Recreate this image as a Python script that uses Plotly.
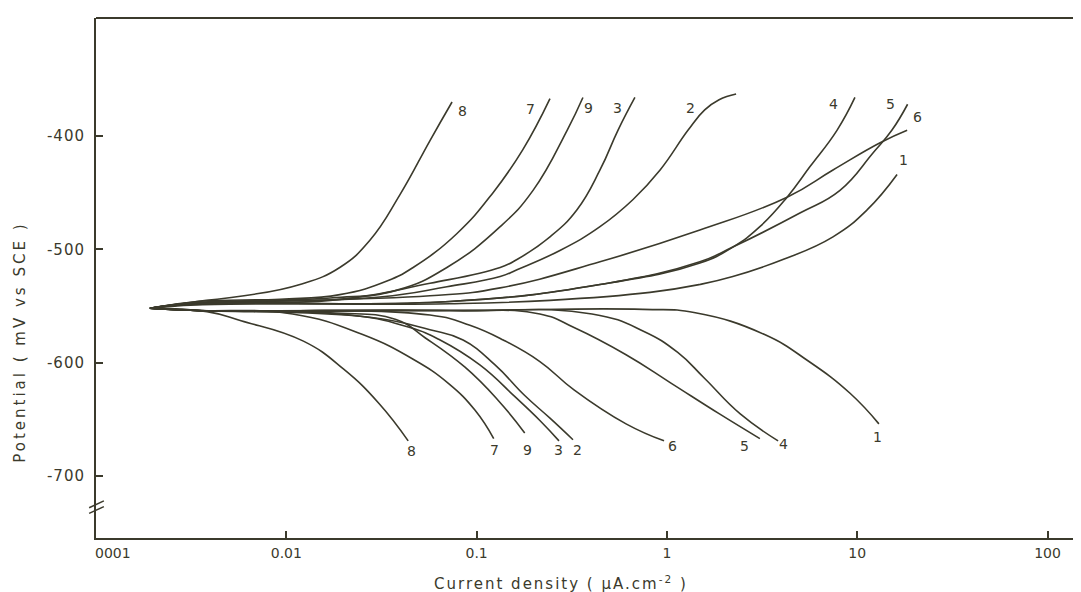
import math
import plotly.graph_objects as go

# ---------------- data (current density in uA/cm2, potential in mV vs SCE) -------------
curve_names = ["1", "2", "3", "4", "5", "6", "7", "8", "9"]

c1_anodic_i = [0.00192, 0.0034, 0.0724, 0.243, 0.815, 1.49, 2.22, 4.07, 7.46, 11.3, 16.2]
c1_anodic_E = [-552, -549, -548, -545, -538, -531, -524, -509, -489, -465, -434]
c1_cathodic_i = [0.00192, 0.0034, 0.0724, 0.748, 1.41, 3.24, 5.58, 9.17, 13.0]
c1_cathodic_E = [-552, -554, -554, -553, -556, -575, -599, -627, -654]

c2_anodic_i = [0.00192, 0.0034, 0.031, 0.0698, 0.133, 0.163, 0.274, 0.445, 0.664, 0.921, 1.29, 1.58, 1.88, 2.31]
c2_anodic_E = [-552, -548, -542, -533, -524, -518, -501, -480, -456, -430, -395, -377, -368, -363]
c2_cathodic_i = [0.00192, 0.0034, 0.0275, 0.0569, 0.0849, 0.125, 0.179, 0.243, 0.321]
c2_cathodic_E = [-552, -554, -560, -571, -580, -602, -629, -649, -668]

c3_anodic_i = [0.00192, 0.0034, 0.017, 0.0569, 0.133, 0.163, 0.243, 0.337, 0.445, 0.553, 0.679]
c3_anodic_E = [-552, -547, -545, -530, -516, -509, -489, -465, -430, -395, -366]
c3_cathodic_i = [0.00192, 0.0034, 0.0216, 0.0447, 0.0643, 0.104, 0.159, 0.215, 0.271]
c3_cathodic_E = [-552, -554, -558, -569, -580, -602, -630, -651, -669]

c4_anodic_i = [0.00192, 0.0034, 0.0724, 0.445, 1.49, 2.22, 3.08, 4.28, 5.65, 7.83, 9.73]
c4_anodic_E = [-552, -548, -546, -531, -512, -498, -480, -454, -427, -395, -366]
c4_cathodic_i = [0.00192, 0.0034, 0.0724, 0.404, 0.748, 1.14, 1.58, 2.42, 3.84]
c4_cathodic_E = [-552, -554, -554, -557, -572, -591, -614, -645, -669]

c5_anodic_i = [0.00192, 0.0034, 0.0724, 0.445, 1.49, 2.22, 5.0, 8.12, 12.1, 15.2, 18.4]
c5_anodic_E = [-552, -548, -546, -531, -511, -498, -468, -448, -415, -395, -372]
c5_cathodic_i = [0.00192, 0.0034, 0.0724, 0.215, 0.325, 0.61, 1.05, 1.88, 3.08]
c5_cathodic_E = [-552, -554, -554, -557, -569, -593, -618, -645, -667]

c6_anodic_i = [0.00192, 0.0034, 0.0569, 0.133, 0.445, 1.49, 4.28, 7.46, 13.2, 18.3]
c6_anodic_E = [-552, -548, -541, -534, -511, -483, -454, -430, -406, -395]
c6_cathodic_i = [0.00192, 0.0034, 0.0569, 0.0922, 0.138, 0.215, 0.325, 0.61, 0.966]
c6_cathodic_E = [-552, -554, -558, -567, -580, -599, -624, -654, -669]

c7_anodic_i = [0.00192, 0.0034, 0.00927, 0.0191, 0.0338, 0.0464, 0.0789, 0.122, 0.175, 0.243]
c7_anodic_E = [-552, -546, -544, -540, -528, -516, -486, -450, -412, -367]
c7_cathodic_i = [0.00192, 0.0034, 0.0108, 0.025, 0.0464, 0.0708, 0.0982, 0.123]
c7_cathodic_E = [-552, -554, -557, -575, -597, -618, -642, -667]

c8_anodic_i = [0.00192, 0.0034, 0.0060, 0.0118, 0.0191, 0.0275, 0.0395, 0.0569, 0.0743]
c8_anodic_E = [-552, -546, -541, -531, -516, -492, -452, -404, -370]
c8_cathodic_i = [0.00192, 0.00383, 0.00578, 0.0123, 0.0201, 0.0307, 0.0437]
c8_cathodic_E = [-552, -555, -563, -581, -606, -636, -669]

c9_anodic_i = [0.00192, 0.0034, 0.017, 0.0382, 0.0698, 0.133, 0.198, 0.299, 0.362]
c9_anodic_E = [-552, -547, -543, -536, -516, -480, -448, -395, -366]
c9_cathodic_i = [0.00192, 0.0034, 0.017, 0.0377, 0.0536, 0.0869, 0.131, 0.179]
c9_cathodic_E = [-552, -554, -556, -562, -578, -604, -634, -662]

x_first_tick = 0.001
x_first_text = "0001"
x_tick_vals = [0.01, 0.1, 1, 10, 100]
x_tick_text = ["0.01", "0.1", "1", "10", "100"]
y_tick_vals = [-400, -500, -600, -700]
y_tick_text = ["-400", "-500", "-600", "-700"]

# ---------------- style ----------------
INK = "#3b3a2c"
FONT = "DejaVu Sans"

branches = {
    "1": ((c1_anodic_i, c1_anodic_E), (c1_cathodic_i, c1_cathodic_E)),
    "2": ((c2_anodic_i, c2_anodic_E), (c2_cathodic_i, c2_cathodic_E)),
    "3": ((c3_anodic_i, c3_anodic_E), (c3_cathodic_i, c3_cathodic_E)),
    "4": ((c4_anodic_i, c4_anodic_E), (c4_cathodic_i, c4_cathodic_E)),
    "5": ((c5_anodic_i, c5_anodic_E), (c5_cathodic_i, c5_cathodic_E)),
    "6": ((c6_anodic_i, c6_anodic_E), (c6_cathodic_i, c6_cathodic_E)),
    "7": ((c7_anodic_i, c7_anodic_E), (c7_cathodic_i, c7_cathodic_E)),
    "8": ((c8_anodic_i, c8_anodic_E), (c8_cathodic_i, c8_cathodic_E)),
    "9": ((c9_anodic_i, c9_anodic_E), (c9_cathodic_i, c9_cathodic_E)),
}

# label offsets (pixels) from the end of each branch
top_label_shift = {"1": (6, 15), "2": (-46, -14), "3": (-17, -11), "4": (-21, -7),
                   "5": (-17, 0), "6": (10, 13), "7": (-19, -10), "8": (10, -9), "9": (6, -11)}
bottom_label_shift = {"1": (-1, -13), "2": (5, -10), "3": (-1, -9), "4": (5, -3),
                      "5": (-15, -7), "6": (8, -5), "7": (1, -11), "8": (3, -10), "9": (3, -17)}

def spaced(text, px):
    return '<span style="letter-spacing:%dpx">%s</span>' % (px, text)

fig = go.Figure()
annotations = []
label_font = dict(family=FONT, size=14, color=INK)
for name in curve_names:
    (ai, aE), (ci, cE) = branches[name]
    for xs, ys in ((ai, aE), (ci, cE)):
        fig.add_trace(go.Scatter(x=xs, y=ys, mode="lines",
                                 line=dict(color=INK, width=1.6, shape="spline", smoothing=1.3),
                                 showlegend=False, hoverinfo="skip"))
    dx, dy = top_label_shift[name]
    annotations.append(dict(x=math.log10(ai[-1]), y=aE[-1], xref="x", yref="y", text=name,
                            showarrow=False, xshift=dx, yshift=dy, font=label_font))
    dx, dy = bottom_label_shift[name]
    annotations.append(dict(x=math.log10(ci[-1]), y=cE[-1], xref="x", yref="y", text=name,
                            showarrow=False, xshift=dx, yshift=dy, font=label_font))

# first x tick label sits right of the axis corner in the original
annotations.append(dict(x=math.log10(x_first_tick), y=-0.029, xref="x", yref="paper",
                        text=x_first_text, showarrow=False, xshift=17, yanchor="middle",
                        font=dict(family=FONT, size=14, color=INK)))

# axis titles
annotations.append(dict(x=0.473, y=-0.087, xref="paper", yref="paper",
                        text=spaced("Current density ( µA.cm<sup>-2</sup> )", 2), showarrow=False,
                        font=dict(family=FONT, size=15, color=INK), xanchor="center", yanchor="middle"))
annotations.append(dict(x=-0.0775, y=0.377, xref="paper", yref="paper",
                        text=spaced("Potential ( mV vs SCE )", 3), textangle=-90, showarrow=False,
                        font=dict(family=FONT, size=15, color=INK), xanchor="center", yanchor="middle"))

shapes = [
    dict(type="line", xref="paper", yref="paper", x0=0, x1=1, y0=1, y1=1,
         line=dict(color=INK, width=2)),
    dict(type="line", xref="paper", yref="paper", x0=1, x1=1, y0=0, y1=1,
         line=dict(color="#d8d8d0", width=1)),
    dict(type="line", xref="paper", yref="y", x0=-0.007, x1=0.008, y0=-728, y1=-722,
         line=dict(color=INK, width=1.5)),
    dict(type="line", xref="paper", yref="y", x0=-0.007, x1=0.008, y0=-733, y1=-727,
         line=dict(color=INK, width=1.5)),
]

# page has an 8px body margin, so the figure is drawn 8px in from the window corner
fig.update_layout(
    width=1073, height=584,
    margin=dict(l=88, r=2, t=10, b=54),
    paper_bgcolor="white", plot_bgcolor="white",
    font=dict(family=FONT, color=INK, size=14),
    annotations=annotations, shapes=shapes,
    xaxis=dict(type="log", range=[-3, 2.1655], tickvals=x_tick_vals, ticktext=x_tick_text,
               ticks="inside", ticklen=7, tickwidth=1.5, tickcolor=INK,
               showline=True, linecolor=INK, linewidth=2, showgrid=False, zeroline=False,
               tickfont=dict(family=FONT, size=14, color=INK), ticklabelstandoff=1),
    yaxis=dict(range=[-754.7, -295.9], tickvals=y_tick_vals,
               ticktext=[spaced(t, 1) for t in y_tick_text],
               ticks="inside", ticklen=7, tickwidth=1.5, tickcolor=INK,
               showline=True, linecolor=INK, linewidth=2, showgrid=False, zeroline=False,
               tickfont=dict(family=FONT, size=15, color=INK), ticklabelstandoff=6),
)

fig.write_html("out.html")
